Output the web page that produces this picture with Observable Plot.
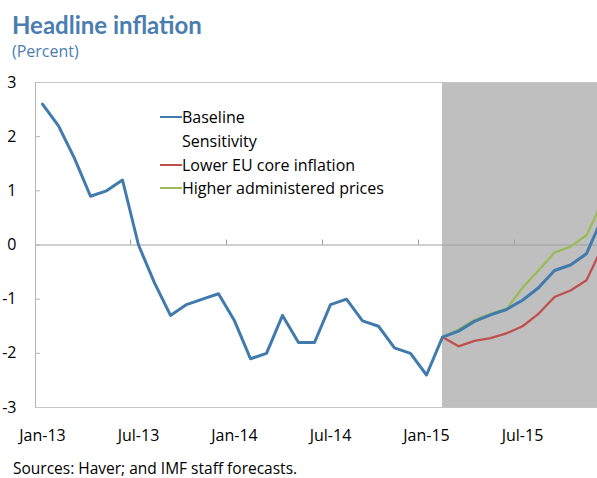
<!DOCTYPE html>
<html><head><meta charset="utf-8">
<script src="https://cdn.jsdelivr.net/npm/d3@7"></script>
<script src="https://cdn.jsdelivr.net/npm/@observablehq/plot@0.6"></script>
<style>
body{margin:0;width:597px;height:478px;position:relative;overflow:hidden;background:#fff;font-family:"Open Sans",sans-serif;color:#000;}
.abs{position:absolute;white-space:nowrap;}
#title{left:12px;top:12.7px;font:700 24px/24px Lato,sans-serif;color:#4a7eb0;}
#subtitle{left:12px;top:42.8px;font:400 16px/16px "Open Sans",sans-serif;color:#4a7eb0;}
#chart{position:absolute;left:0;top:60px;}
#caption{left:13px;top:461.2px;font:400 15.5px/15.5px "Open Sans",sans-serif;}
.lg{position:absolute;left:182px;font:400 16px/16px "Open Sans",sans-serif;white-space:nowrap;}
.sw{position:absolute;left:160px;width:22px;height:2.5px;}
</style></head>
<body>
<div id="title" class="abs">Headline inflation</div>
<div id="subtitle" class="abs">(Percent)</div>
<div id="chart"></div>
<div id="legend"></div>
<div id="caption" class="abs">Sources: Haver; and IMF staff forecasts.</div>
<script>
const months = ["Jan-13","Feb-13","Mar-13","Apr-13","May-13","Jun-13","Jul-13","Aug-13","Sep-13","Oct-13","Nov-13","Dec-13",
"Jan-14","Feb-14","Mar-14","Apr-14","May-14","Jun-14","Jul-14","Aug-14","Sep-14","Oct-14","Nov-14","Dec-14",
"Jan-15","Feb-15","Mar-15","Apr-15","May-15","Jun-15","Jul-15","Aug-15","Sep-15","Oct-15","Nov-15","Dec-15"];
const tickLabels = ["Jan-13","Jul-13","Jan-14","Jul-14","Jan-15","Jul-15"];
const yTicks = [-3,-2,-1,0,1,2,3];
const forecastStart = "Feb-15";
const baseline = [2.6,2.2,1.6,0.9,1.0,1.2,0.0,-0.7,-1.3,-1.1,-1.0,-0.9,
-1.4,-2.1,-2.0,-1.3,-1.8,-1.8,-1.1,-1.0,-1.4,-1.5,-1.9,-2.0,
-2.4,-1.7,-1.59,-1.41,-1.29,-1.19,-1.02,-0.79,-0.47,-0.37,-0.16,0.51];
const lowerEU = [-1.7,-1.87,-1.77,-1.72,-1.63,-1.50,-1.27,-0.96,-0.84,-0.65,-0.03];
const higherAdmin = [-1.7,-1.56,-1.38,-1.27,-1.18,-0.79,-0.47,-0.14,-0.03,0.18,0.80];
const seriesNames = ["Baseline","Sensitivity","Lower EU core inflation","Higher administered prices"];
const colors = {"Baseline":"#417aad","Lower EU core inflation":"#c0504d","Higher administered prices":"#9bbb59"};

const idx = m => months.indexOf(m);
const fStart = idx(forecastStart);
const baseData = baseline.map((v,i)=>({i, v}));
const lowData = lowerEU.map((v,k)=>({i: fStart+k, v}));
const highData = higherAdmin.map((v,k)=>({i: fStart+k, v}));
const xDomain = [-0.4375, 34.6875];
const boundaries = tickLabels.map(t => idx(t) - 0.5).filter(b => b > 0);
const axisGray = "#b4b4b4";

const chart = Plot.plot({
  width: 597, height: 390,
  marginTop: 22, marginBottom: 43, marginLeft: 35, marginRight: 0,
  style: {fontFamily: "'Open Sans', sans-serif", fontSize: "16px", color: "#000", background: "transparent"},
  x: {type: "linear", domain: xDomain, label: null},
  y: {domain: [-3, 3], label: null},
  marks: [
    Plot.rect([forecastStart], {x1: d => idx(d), x2: xDomain[1], y1: -3, y2: 3, fill: "#bfbfbf"}),
    Plot.ruleY([0], {stroke: "#a0a0a0", strokeWidth: 1}),
    Plot.ruleX(boundaries, {y1: 0, y2: 0, insetTop: -5, stroke: "#a0a0a0"}),
    Plot.ruleY([-3, 3], {stroke: "#c4c4c4"}),
    Plot.ruleX([xDomain[0]], {stroke: axisGray}),
    Plot.ruleY(yTicks.slice(1, -1), {x1: xDomain[0], x2: xDomain[0], insetRight: -5, stroke: axisGray}),
    Plot.axisY({ticks: yTicks, tickSize: 0, tickPadding: 19, tickFormat: d => String(d), label: null, fontSize: 16, fill: "#000"}),
    Plot.axisX({ticks: tickLabels.map(idx), tickSize: 0, tickPadding: 22, tickFormat: i => months[i], label: null, fontSize: 16, fill: "#000"}),
    Plot.line(lowData, {x: "i", y: "v", stroke: colors["Lower EU core inflation"], strokeWidth: 2.3, strokeLinejoin: "round", clip: true}),
    Plot.line(highData, {x: "i", y: "v", stroke: colors["Higher administered prices"], strokeWidth: 2.3, strokeLinejoin: "round", clip: true}),
    Plot.line(baseData, {x: "i", y: "v", stroke: colors["Baseline"], strokeWidth: 3, strokeLinejoin: "round", clip: true})
  ]
});
document.getElementById("chart").appendChild(chart);

// legend (HTML overlay)
const legend = document.getElementById("legend");
const baselines = [123, 147, 171, 194];
seriesNames.forEach((name, k) => {
  const t = document.createElement("div");
  t.className = "lg";
  t.style.top = (baselines[k] - 14.2) + "px";
  t.textContent = name;
  legend.appendChild(t);
  if (colors[name]) {
    const s = document.createElement("div");
    s.className = "sw";
    s.style.background = colors[name];
    s.style.top = (baselines[k] - 7.2) + "px";
    legend.appendChild(s);
  }
});
</script>
</body></html>
